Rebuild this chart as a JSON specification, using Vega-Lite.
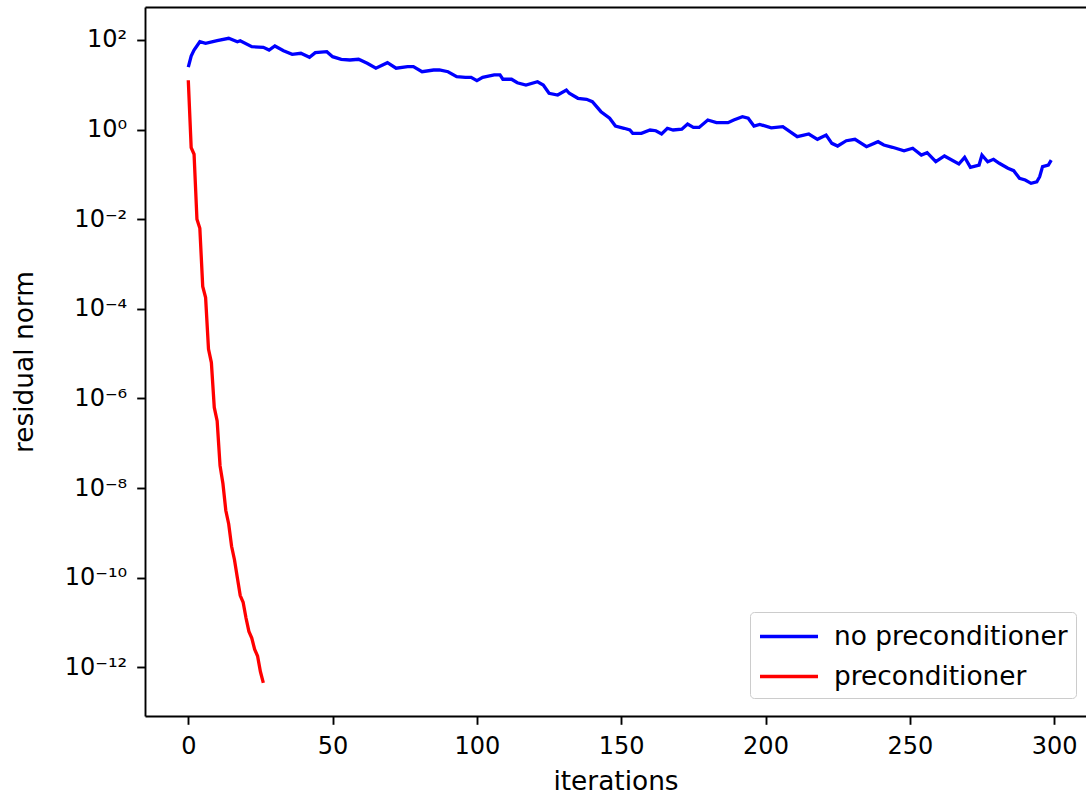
{
  "$schema": "https://vega.github.io/schema/vega-lite/v6.json",
  "width": 941,
  "height": 709,
  "autosize": "none",
  "padding": {"left": 145, "top": 7, "right": 0, "bottom": 80},
  "background": "white",
  "config": {
    "view": {"stroke": null},
    "font": "DejaVu Sans",
    "axis": {
      "domainColor": "black", "domainWidth": 1.9, "tickColor": "black", "tickWidth": 1.9, "tickSize": 8.3,
      "labelFont": "DejaVu Sans", "labelFontSize": 24, "labelColor": "black",
      "titleFont": "DejaVu Sans", "titleFontSize": 26.4, "titleFontWeight": "normal", "titleColor": "black",
      "grid": false
    }
  },
  "data": {"values": [
    {"series": "no preconditioner", "iteration": 0, "residual": 24.9},
    {"series": "no preconditioner", "iteration": 1, "residual": 44},
    {"series": "no preconditioner", "iteration": 2, "residual": 59.8},
    {"series": "no preconditioner", "iteration": 4, "residual": 91.6},
    {"series": "no preconditioner", "iteration": 6, "residual": 84.3},
    {"series": "no preconditioner", "iteration": 10, "residual": 96.5},
    {"series": "no preconditioner", "iteration": 14, "residual": 109},
    {"series": "no preconditioner", "iteration": 17, "residual": 91.6},
    {"series": "no preconditioner", "iteration": 18, "residual": 96.5},
    {"series": "no preconditioner", "iteration": 22, "residual": 70.8},
    {"series": "no preconditioner", "iteration": 26, "residual": 68.7},
    {"series": "no preconditioner", "iteration": 28, "residual": 59.8},
    {"series": "no preconditioner", "iteration": 30, "residual": 73.5},
    {"series": "no preconditioner", "iteration": 33, "residual": 57.7},
    {"series": "no preconditioner", "iteration": 36, "residual": 48.0},
    {"series": "no preconditioner", "iteration": 39, "residual": 50.5},
    {"series": "no preconditioner", "iteration": 42, "residual": 41.1},
    {"series": "no preconditioner", "iteration": 44, "residual": 52.1},
    {"series": "no preconditioner", "iteration": 48, "residual": 54.8},
    {"series": "no preconditioner", "iteration": 50, "residual": 42.4},
    {"series": "no preconditioner", "iteration": 53, "residual": 37.1},
    {"series": "no preconditioner", "iteration": 56, "residual": 35.8},
    {"series": "no preconditioner", "iteration": 59, "residual": 37.1},
    {"series": "no preconditioner", "iteration": 62, "residual": 30.2},
    {"series": "no preconditioner", "iteration": 65, "residual": 23.4},
    {"series": "no preconditioner", "iteration": 69, "residual": 31.1},
    {"series": "no preconditioner", "iteration": 72, "residual": 23.4},
    {"series": "no preconditioner", "iteration": 76, "residual": 25.4},
    {"series": "no preconditioner", "iteration": 78, "residual": 25.4},
    {"series": "no preconditioner", "iteration": 81, "residual": 19.6},
    {"series": "no preconditioner", "iteration": 85, "residual": 21.4},
    {"series": "no preconditioner", "iteration": 87, "residual": 21.4},
    {"series": "no preconditioner", "iteration": 90, "residual": 19.6},
    {"series": "no preconditioner", "iteration": 93, "residual": 15.2},
    {"series": "no preconditioner", "iteration": 96, "residual": 14.7},
    {"series": "no preconditioner", "iteration": 98, "residual": 14.7},
    {"series": "no preconditioner", "iteration": 100, "residual": 12.4},
    {"series": "no preconditioner", "iteration": 102, "residual": 14.7},
    {"series": "no preconditioner", "iteration": 106, "residual": 16.6},
    {"series": "no preconditioner", "iteration": 108, "residual": 16.6},
    {"series": "no preconditioner", "iteration": 109, "residual": 13.3},
    {"series": "no preconditioner", "iteration": 112, "residual": 13.3},
    {"series": "no preconditioner", "iteration": 114, "residual": 11.1},
    {"series": "no preconditioner", "iteration": 117, "residual": 9.9},
    {"series": "no preconditioner", "iteration": 121, "residual": 11.7},
    {"series": "no preconditioner", "iteration": 123, "residual": 9.9},
    {"series": "no preconditioner", "iteration": 125, "residual": 6.46},
    {"series": "no preconditioner", "iteration": 128, "residual": 5.92},
    {"series": "no preconditioner", "iteration": 131, "residual": 7.66},
    {"series": "no preconditioner", "iteration": 132, "residual": 6.46},
    {"series": "no preconditioner", "iteration": 135, "residual": 5.0},
    {"series": "no preconditioner", "iteration": 138, "residual": 4.75},
    {"series": "no preconditioner", "iteration": 140, "residual": 4.2},
    {"series": "no preconditioner", "iteration": 143, "residual": 2.51},
    {"series": "no preconditioner", "iteration": 146, "residual": 1.79},
    {"series": "no preconditioner", "iteration": 148, "residual": 1.2},
    {"series": "no preconditioner", "iteration": 151, "residual": 1.07},
    {"series": "no preconditioner", "iteration": 153, "residual": 0.98},
    {"series": "no preconditioner", "iteration": 154, "residual": 0.826},
    {"series": "no preconditioner", "iteration": 157, "residual": 0.826},
    {"series": "no preconditioner", "iteration": 160, "residual": 0.98},
    {"series": "no preconditioner", "iteration": 162, "residual": 0.944},
    {"series": "no preconditioner", "iteration": 164, "residual": 0.798},
    {"series": "no preconditioner", "iteration": 166, "residual": 1.07},
    {"series": "no preconditioner", "iteration": 168, "residual": 0.98},
    {"series": "no preconditioner", "iteration": 171, "residual": 1.02},
    {"series": "no preconditioner", "iteration": 173, "residual": 1.33},
    {"series": "no preconditioner", "iteration": 175, "residual": 1.12},
    {"series": "no preconditioner", "iteration": 177, "residual": 1.12},
    {"series": "no preconditioner", "iteration": 180, "residual": 1.64},
    {"series": "no preconditioner", "iteration": 183, "residual": 1.43},
    {"series": "no preconditioner", "iteration": 187, "residual": 1.43},
    {"series": "no preconditioner", "iteration": 189, "residual": 1.64},
    {"series": "no preconditioner", "iteration": 192, "residual": 1.94},
    {"series": "no preconditioner", "iteration": 194, "residual": 1.79},
    {"series": "no preconditioner", "iteration": 196, "residual": 1.2},
    {"series": "no preconditioner", "iteration": 198, "residual": 1.31},
    {"series": "no preconditioner", "iteration": 202, "residual": 1.09},
    {"series": "no preconditioner", "iteration": 206, "residual": 1.16},
    {"series": "no preconditioner", "iteration": 211, "residual": 0.695},
    {"series": "no preconditioner", "iteration": 215, "residual": 0.798},
    {"series": "no preconditioner", "iteration": 218, "residual": 0.607},
    {"series": "no preconditioner", "iteration": 221, "residual": 0.757},
    {"series": "no preconditioner", "iteration": 223, "residual": 0.494},
    {"series": "no preconditioner", "iteration": 225, "residual": 0.43},
    {"series": "no preconditioner", "iteration": 228, "residual": 0.565},
    {"series": "no preconditioner", "iteration": 231, "residual": 0.607},
    {"series": "no preconditioner", "iteration": 235, "residual": 0.415},
    {"series": "no preconditioner", "iteration": 239, "residual": 0.537},
    {"series": "no preconditioner", "iteration": 241, "residual": 0.453},
    {"series": "no preconditioner", "iteration": 244, "residual": 0.403},
    {"series": "no preconditioner", "iteration": 248, "residual": 0.338},
    {"series": "no preconditioner", "iteration": 251, "residual": 0.383},
    {"series": "no preconditioner", "iteration": 254, "residual": 0.271},
    {"series": "no preconditioner", "iteration": 256, "residual": 0.305},
    {"series": "no preconditioner", "iteration": 259, "residual": 0.192},
    {"series": "no preconditioner", "iteration": 262, "residual": 0.258},
    {"series": "no preconditioner", "iteration": 267, "residual": 0.171},
    {"series": "no preconditioner", "iteration": 269, "residual": 0.241},
    {"series": "no preconditioner", "iteration": 271, "residual": 0.144},
    {"series": "no preconditioner", "iteration": 274, "residual": 0.162},
    {"series": "no preconditioner", "iteration": 275, "residual": 0.271},
    {"series": "no preconditioner", "iteration": 277, "residual": 0.192},
    {"series": "no preconditioner", "iteration": 279, "residual": 0.217},
    {"series": "no preconditioner", "iteration": 281, "residual": 0.177},
    {"series": "no preconditioner", "iteration": 284, "residual": 0.137},
    {"series": "no preconditioner", "iteration": 286, "residual": 0.121},
    {"series": "no preconditioner", "iteration": 288, "residual": 0.0818},
    {"series": "no preconditioner", "iteration": 290, "residual": 0.075},
    {"series": "no preconditioner", "iteration": 292, "residual": 0.0632},
    {"series": "no preconditioner", "iteration": 294, "residual": 0.0687},
    {"series": "no preconditioner", "iteration": 295, "residual": 0.0889},
    {"series": "no preconditioner", "iteration": 296, "residual": 0.149},
    {"series": "no preconditioner", "iteration": 298, "residual": 0.162},
    {"series": "no preconditioner", "iteration": 299, "residual": 0.209},
    {"series": "preconditioner", "iteration": 0, "residual": 12.6},
    {"series": "preconditioner", "iteration": 1, "residual": 0.398},
    {"series": "preconditioner", "iteration": 2, "residual": 0.282},
    {"series": "preconditioner", "iteration": 3, "residual": 0.01},
    {"series": "preconditioner", "iteration": 4, "residual": 0.00631},
    {"series": "preconditioner", "iteration": 5, "residual": 3.16e-4},
    {"series": "preconditioner", "iteration": 6, "residual": 1.78e-4},
    {"series": "preconditioner", "iteration": 7, "residual": 1.26e-5},
    {"series": "preconditioner", "iteration": 8, "residual": 6.31e-6},
    {"series": "preconditioner", "iteration": 9, "residual": 6.31e-7},
    {"series": "preconditioner", "iteration": 10, "residual": 3.16e-7},
    {"series": "preconditioner", "iteration": 11, "residual": 3.16e-8},
    {"series": "preconditioner", "iteration": 12, "residual": 1.26e-8},
    {"series": "preconditioner", "iteration": 13, "residual": 3.16e-9},
    {"series": "preconditioner", "iteration": 14, "residual": 1.58e-9},
    {"series": "preconditioner", "iteration": 15, "residual": 5.01e-10},
    {"series": "preconditioner", "iteration": 16, "residual": 2.51e-10},
    {"series": "preconditioner", "iteration": 17, "residual": 1.0e-10},
    {"series": "preconditioner", "iteration": 18, "residual": 3.98e-11},
    {"series": "preconditioner", "iteration": 19, "residual": 2.82e-11},
    {"series": "preconditioner", "iteration": 20, "residual": 1.26e-11},
    {"series": "preconditioner", "iteration": 21, "residual": 6.31e-12},
    {"series": "preconditioner", "iteration": 22, "residual": 4.47e-12},
    {"series": "preconditioner", "iteration": 23, "residual": 2.51e-12},
    {"series": "preconditioner", "iteration": 24, "residual": 1.78e-12},
    {"series": "preconditioner", "iteration": 25, "residual": 7.94e-13},
    {"series": "preconditioner", "iteration": 26, "residual": 4.47e-13}
  ]},
  "layer": [
    {
      "mark": {"type": "line", "strokeWidth": 3.3, "clip": true},
      "encoding": {
        "x": {
          "field": "iteration", "type": "quantitative",
          "scale": {"domain": [-15.0, 311.05], "nice": false, "zero": false},
          "axis": {"orient": "bottom", "values": [0, 50, 100, 150, 200, 250, 300], "labelPadding": 10, "title": "iterations", "titlePadding": 10, "labelFlush": false, "labelOverlap": false}
        },
        "y": {
          "field": "residual", "type": "quantitative",
          "scale": {"type": "log", "domain": [8.18e-14, 545], "nice": false},
          "axis": {
            "values": [1e-12, 1e-10, 1e-8, 1e-6, 1e-4, 1e-2, 1, 100],
            "labelExpr": "'10' + replace(replace(replace(replace(replace(replace(replace(toString(round(log(datum.value)/LN10)),'-','⁻'),'0','⁰'),'1','¹'),'2','²'),'4','⁴'),'6','⁶'),'8','⁸')",
            "labelPadding": 10, "title": "residual norm", "titlePadding": 26, "labelFlush": false, "labelOverlap": false
          }
        },
        "color": {
          "field": "series", "type": "nominal",
          "scale": {"domain": ["no preconditioner", "preconditioner"], "range": ["#0000ff", "#ff0000"]},
          "legend": {
            "orient": "none", "legendX": 605, "legendY": 605, "title": null,
            "symbolType": "M-1,0L3,0", "symbolSize": 841, "symbolStrokeWidth": 3.3,
            "labelFontSize": 26.4, "labelFont": "DejaVu Sans", "labelColor": "black", "labelLimit": 0,
            "fillColor": "white", "strokeColor": "#cccccc", "cornerRadius": 4,
            "padding": 8, "rowPadding": 10, "labelOffset": 43
          }
        }
      }
    },
    {
      "mark": {"type": "point", "opacity": 0},
      "encoding": {
        "x": {"field": "iteration", "type": "quantitative", "axis": {"orient": "top", "labels": false, "ticks": false, "title": null, "domain": true}},
        "y": {"field": "residual", "type": "quantitative"}
      }
    }
  ],
  "resolve": {"axis": {"x": "independent"}}
}
